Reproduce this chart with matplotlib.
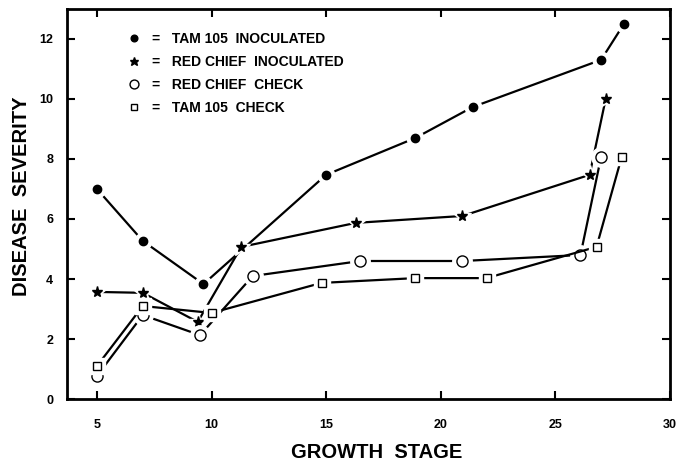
import matplotlib
matplotlib.use("Agg")
import matplotlib.pyplot as plt
from matplotlib.lines import Line2D

plt.rcParams['font.family'] = ['Liberation Sans', 'DejaVu Sans']
plt.rcParams['font.weight'] = 'bold'

# Data
tam_inoc_x = [5.0, 7.0, 9.65, 15.0, 18.9, 21.4, 27.0, 28.0]
tam_inoc_y = [7.0, 5.27, 3.83, 7.47, 8.7, 9.73, 11.3, 12.5]

red_inoc_x = [5.0, 7.0, 9.4, 11.3, 16.3, 20.95, 26.5, 27.2]
red_inoc_y = [3.57, 3.54, 2.57, 5.07, 5.87, 6.1, 7.47, 10.0]

red_check_x = [5.0, 7.0, 9.5, 11.8, 16.5, 20.95, 26.1, 27.0]
red_check_y = [0.77, 2.8, 2.13, 4.1, 4.6, 4.6, 4.8, 8.07]

tam_check_x = [5.0, 7.0, 10.0, 14.8, 18.9, 22.0, 26.8, 27.9]
tam_check_y = [1.1, 3.1, 2.87, 3.87, 4.03, 4.03, 5.07, 8.07]

labels = ["TAM 105  INOCULATED", "RED CHIEF  INOCULATED", "RED CHIEF  CHECK", "TAM 105  CHECK"]
xticks = [5, 10, 15, 20, 25, 30]
yticks = [0, 2, 4, 6, 8, 10, 12]

fig = plt.figure(figsize=(6.92, 4.63), dpi=100)
ax = fig.add_axes([0.097, 0.138, 0.871, 0.843])

series = [
    (tam_inoc_x, tam_inoc_y, 'o', 'black', 6),
    (red_inoc_x, red_inoc_y, '*', 'black', 8),
    (red_check_x, red_check_y, 'o', 'white', 8),
    (tam_check_x, tam_check_y, 's', 'white', 6),
]

for i, (xs, ys, m, fc, ms) in enumerate(series):
    ax.plot(xs, ys, color='black', lw=1.6, zorder=2 + i * 3)
    ax.plot(xs, ys, linestyle='none', marker=m, ms=ms + 6, mfc='white', mec='white', zorder=3 + i * 3)
    ax.plot(xs, ys, linestyle='none', marker=m, ms=ms, mfc=fc, mec='black', mew=1.0, zorder=4 + i * 3)

ax.set_xlim(3.7, 30)
ax.set_ylim(0, 13)
ax.set_xticks(xticks)
ax.set_yticks(yticks)
ax.tick_params(direction='in', top=True, right=True, length=6, width=1.5, labelsize=9, pad=14)
ax.tick_params(axis='y', pad=10)
for lab in ax.get_xticklabels() + ax.get_yticklabels():
    lab.set_fontweight('bold')
for s in ax.spines.values():
    s.set_linewidth(2)

ax.set_xlabel("GROWTH  STAGE", fontsize=14.5, fontweight='bold')
ax.set_ylabel("DISEASE  SEVERITY", fontsize=14.5, fontweight='bold')
ax.xaxis.set_label_coords(0.514, -0.112)
ax.yaxis.set_label_coords(-0.06, 0.52)

handles = []
for xs, ys, m, fc, ms in series:
    handles.append(Line2D([], [], linestyle='none', marker=m, ms=ms * 0.8, mfc=fc, mec='black', mew=1.0))
leg = ax.legend(handles, ["=   " + l for l in labels], loc='upper left', bbox_to_anchor=(0.078, 0.972),
                frameon=False, prop={'weight': 'bold', 'size': 10}, handlelength=1.0,
                handletextpad=0.8, labelspacing=0.64)

fig.savefig("out.png", dpi=100)
